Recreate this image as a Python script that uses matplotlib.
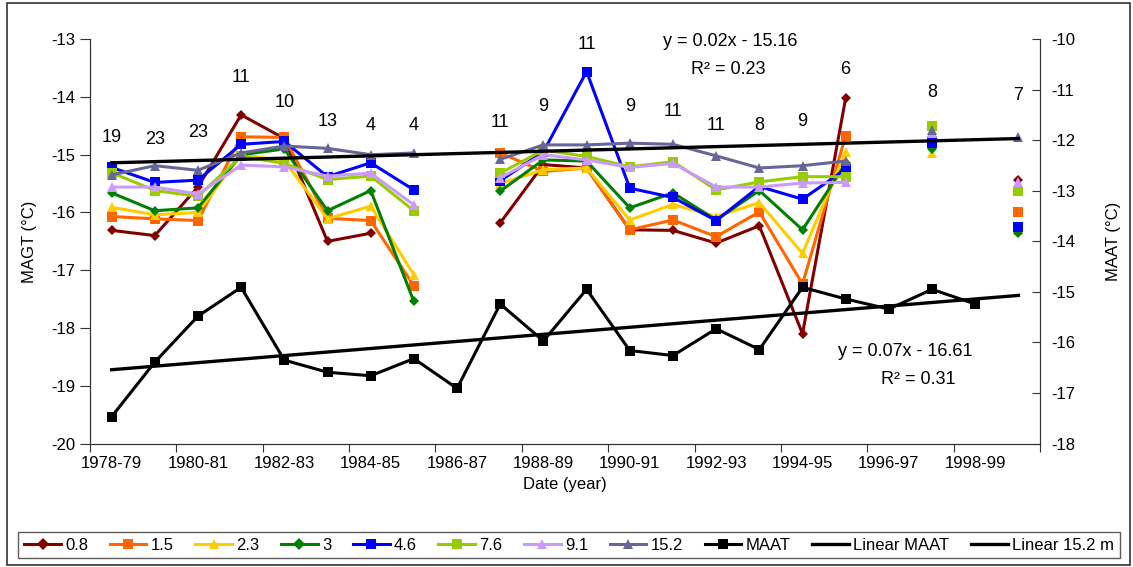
import numpy as np
import matplotlib
matplotlib.use("Agg")
import matplotlib.pyplot as plt
from matplotlib.patches import Rectangle

plt.rcParams['font.family'] = ['Liberation Sans', 'DejaVu Sans']

nan = np.nan

years = ["1978-79", "1979-80", "1980-81", "1981-82", "1982-83", "1983-84",
         "1984-85", "1985-86", "1986-87", "1987-88", "1988-89", "1989-90",
         "1990-91", "1991-92", "1992-93", "1993-94", "1994-95", "1995-96",
         "1996-97", "1997-98", "1998-99", "1999-00"]

# Mean annual ground temperature (MAGT) by depth, in degC
magt_08 = [-16.31, -16.40, -15.56, -14.31, -14.72, -16.50, -16.36, nan, nan, -16.18, -15.17,
           -15.23, -16.30, -16.31, -16.53, -16.23, -18.10, -14.02, nan, -14.70, nan, -15.44]
magt_15 = [-16.07, -16.11, -16.14, -14.69, -14.70, -16.10, -16.14, -17.27, nan, -14.97, -15.29,
           -15.23, -16.30, -16.13, -16.42, -15.99, -17.24, -14.67, nan, -14.78, nan, -15.99]
magt_23 = [-15.91, -16.04, -16.00, -15.00, -15.10, -16.11, -15.89, -17.08, nan, -15.50, -15.26,
           -15.23, -16.13, -15.86, -16.07, -15.83, -16.71, -14.95, nan, -14.97, nan, -16.30]
magt_3 = [-15.66, -15.97, -15.92, -15.00, -14.90, -15.97, -15.62, -17.54, nan, -15.63, -15.09,
          -15.11, -15.92, -15.66, -16.13, -15.62, -16.30, -15.15, nan, -14.90, nan, -16.35]
magt_46 = [-15.22, -15.48, -15.44, -14.82, -14.77, -15.38, -15.14, -15.61, nan, -15.45, -14.95,
           -13.56, -15.58, -15.74, -16.14, -15.55, -15.77, -15.25, nan, -14.80, nan, -16.25]
magt_76 = [-15.31, -15.62, -15.72, -15.03, -15.15, -15.43, -15.37, -15.97, nan, -15.32, -14.92,
           -15.03, -15.21, -15.12, -15.61, -15.47, -15.38, -15.38, nan, -14.50, nan, -15.62]
magt_91 = [-15.56, -15.56, -15.68, -15.18, -15.21, -15.37, -15.32, -15.87, nan, -15.40, -15.00,
           -15.09, -15.22, -15.15, -15.56, -15.56, -15.49, -15.48, nan, -14.63, nan, -15.47]
magt_152 = [-15.35, -15.19, -15.27, -14.97, -14.85, -14.89, -15.00, -14.97, nan, -15.08, -14.83,
            -14.83, -14.80, -14.82, -15.02, -15.23, -15.19, -15.11, nan, -14.57, nan, -14.70]

# Mean annual air temperature (MAAT), in degC
maat = [-17.47, -16.39, -15.48, -14.91, -16.35, -16.59, -16.66, -16.32, -16.91, -15.24, -15.97,
        -14.95, -16.16, -16.26, -15.73, -16.14, -14.91, -15.14, -15.34, -14.95, -15.24, nan]

# Number of boreholes per year
counts = [19, 23, 23, 11, 10, 13, 4, 4, None, 11, 9, 11, 9, 11, 11, 8, 9, 6, None, 8, None, 7]
count_label_y = [-14.71, -14.74, -14.62, -13.67, -14.09, -14.43, -14.50, -14.50, None, -14.45,
                 -14.17, -13.10, -14.16, -14.26, -14.50, -14.50, -14.43, -13.53, None, -13.93,
                 None, -13.98]

# Trend line coefficients (x = 1, 2, ... over the year index)
trend_152 = (0.02, -15.16, 0.23)
trend_maat = (0.07, -16.61, 0.31)

depths = ["0.8", "1.5", "2.3", "3", "4.6", "7.6", "9.1", "15.2"]
series = [magt_08, magt_15, magt_23, magt_3, magt_46, magt_76, magt_91, magt_152]
colors = ["#800000", "#FF6600", "#FFCC00", "#008000", "#0000FF", "#99CC00", "#CC99FF", "#666699"]
markers = ["D", "s", "^", "D", "s", "s", "^", "^"]
msizes = [5.5, 7, 7.5, 5.5, 7, 7, 7.5, 7.5]

W, H = 1133, 567
fig = plt.figure(figsize=(W / 100, H / 100), dpi=100)
ax = fig.add_axes([90 / W, 1 - 443.5 / H, (1040 - 90) / W, (443.5 - 39.2) / H])
ax2 = ax.twinx()

x = np.arange(len(years))
handles = []
for vals, c, m, ms, lab in zip(series, colors, markers, msizes, depths):
    h, = ax.plot(x, vals, color=c, marker=m, markersize=ms, linewidth=2.2,
                 markeredgewidth=0, label=lab, zorder=3)
    handles.append(h)

# Linear trend of the 15.2 m series
xi = np.arange(1, len(years) + 1)
a, b, r2 = trend_152
h152, = ax.plot(x, a * xi + b, color="black", linewidth=2.4, zorder=4,
                label="Linear 15.2 m")

# MAAT on the secondary axis
hm, = ax2.plot(x, maat, color="black", marker="s", markersize=7, linewidth=2.2,
               markeredgewidth=0, label="MAAT", zorder=3)
a2, b2, r22 = trend_maat
hmt, = ax2.plot(x, a2 * xi + b2, color="black", linewidth=2.4, label="Linear MAAT", zorder=3)

# Borehole counts above each year
for xv, n, yv in zip(x, counts, count_label_y):
    if n is not None:
        ax.text(xv, yv, str(n), ha="center", va="center", fontsize=13)

ax.set_xlim(-0.5, len(years) - 0.5)
ax.set_ylim(-20, -13)
ax2.set_ylim(-18, -10)

ax.set_xticks(np.arange(-0.5, len(years), 2))
ax.set_xticklabels([])
ax.set_xticks(x[::2], minor=True)
ax.set_xticklabels(years[::2], minor=True, fontsize=12)
ax.tick_params(axis="x", which="major", direction="out", length=6, width=0.8, color="#333333")
ax.tick_params(axis="x", which="minor", length=0, pad=9)

ax.set_yticks(np.arange(-20, -12.9, 1))
ax.set_yticklabels([str(v) for v in range(-20, -12)], fontsize=12)
ax.tick_params(axis="y", direction="out", length=7, width=0.8, color="#333333")
ax2.set_yticks(np.arange(-18, -9.9, 1))
ax2.set_yticklabels([str(v) for v in range(-18, -9)], fontsize=12)
ax2.tick_params(axis="y", direction="in", length=6, width=0.8, color="#333333", pad=8)

for a_ in (ax, ax2):
    a_.spines["top"].set_visible(False)
    for s in ("left", "right", "bottom"):
        a_.spines[s].set_color("#333333")
        a_.spines[s].set_linewidth(0.8)

ax.set_ylabel("MAGT (°C)", fontsize=12, labelpad=10)
ax2.set_ylabel("MAAT (°C)", fontsize=12, labelpad=22)
ax.set_xlabel("Date (year)", fontsize=12, labelpad=4)

# Trend equations
fig.text(730 / W, 1 - 42 / H, f"y = {a:.2f}x - {abs(b):.2f}", ha="center", va="center", fontsize=13)
fig.text(728 / W, 1 - 70 / H, f"R² = {r2:.2f}", ha="center", va="center", fontsize=13)
fig.text(905 / W, 1 - 352 / H, f"y = {a2:.2f}x - {abs(b2):.2f}", ha="center", va="center", fontsize=13)
fig.text(918 / W, 1 - 380 / H, f"R² = {r22:.2f}", ha="center", va="center", fontsize=13)

leg = fig.legend(handles + [hm, hmt, h152],
                 depths + ["MAAT", "Linear MAAT", "Linear 15.2 m"],
                 loc="center", bbox_to_anchor=(10 / W, 1 - 562 / H, 1118 / W, 34 / H),
                 mode="expand", ncol=11, fontsize=12, frameon=True, fancybox=False,
                 handlelength=2.2, handletextpad=0.25, columnspacing=0.4, borderpad=0.35)
leg.get_frame().set_edgecolor("#333333")
leg.get_frame().set_linewidth(1.0)
for lh in leg.legend_handles:
    lh.set_markersize(6.5)

# Outer chart border
fig.patches.append(Rectangle((7 / W, 2 / H), 1123 / W, 562 / H, transform=fig.transFigure,
                             fill=False, edgecolor="#333333", linewidth=1.2))

fig.savefig("out.png", dpi=100)
